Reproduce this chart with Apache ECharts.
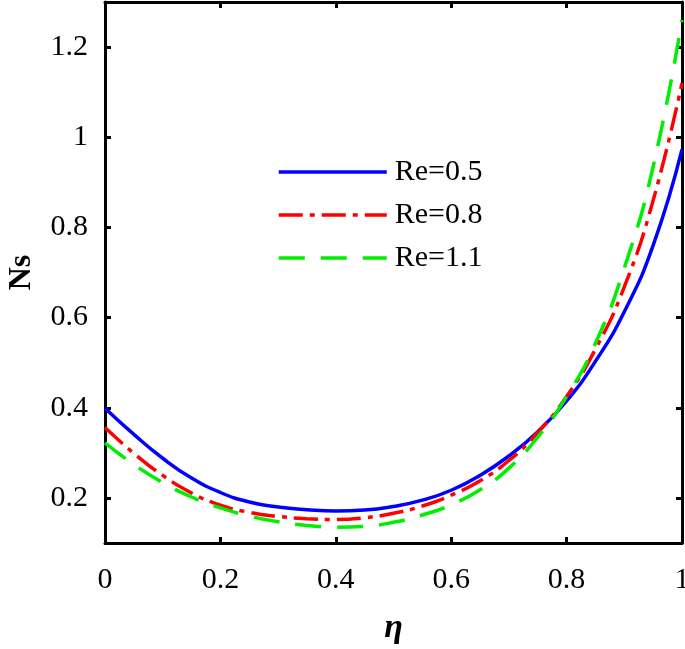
<!DOCTYPE html>
<html>
<head>
<meta charset="utf-8">
<script src="https://cdn.jsdelivr.net/npm/echarts@6/dist/echarts.min.js"></script>
<style>
  html, body { margin: 0; padding: 0; background: #fff; }
  #chartNs { width: 685px; height: 649px; }
</style>
</head>
<body>
<div id="chartNs"></div>
<script>
const etaValues = [0, 0.05, 0.1, 0.15, 0.2, 0.25, 0.3, 0.35, 0.4, 0.45, 0.5,
  0.55, 0.6, 0.65, 0.7, 0.75, 0.8, 0.85, 0.9, 0.95, 1]
// Ns for Re = 0.5
const nsRe05 = [0.399, 0.341, 0.288, 0.244, 0.212, 0.191, 0.180, 0.174, 0.171, 0.173, 0.181,
  0.195, 0.217, 0.250, 0.293, 0.347, 0.415, 0.503, 0.613, 0.760, 0.973]
// Ns for Re = 0.8
const nsRe08 = [0.356, 0.299, 0.250, 0.211, 0.184, 0.168, 0.159, 0.154, 0.152, 0.156, 0.166,
  0.182, 0.206, 0.238, 0.283, 0.345, 0.425, 0.530, 0.668, 0.860, 1.120]
// Ns for Re = 1.1
const nsRe11 = [0.322, 0.274, 0.234, 0.202, 0.178, 0.160, 0.147, 0.139, 0.135, 0.137, 0.146,
  0.162, 0.185, 0.218, 0.266, 0.335, 0.425, 0.543, 0.710, 0.935, 1.260]
const yTicks = [0.2, 0.4, 0.6, 0.8, 1, 1.2]

const serif = '"Liberation Serif", "DejaVu Serif", serif'

function pairs (ys) {
  return etaValues.map((x, i) => [x, ys[i]])
}

const chartNs = echarts.init(document.getElementById('chartNs'))

const xBase = {
  type: 'value',
  min: 0,
  max: 1,
  interval: 0.2,
  axisLine: { show: true, onZero: false, lineStyle: { color: '#000', width: 3 } },
  axisTick: { show: true, inside: true, length: 6, lineStyle: { color: '#000', width: 3 } },
  splitLine: { show: false }
}
const yBase = {
  type: 'value',
  min: 0.1,
  max: 1.3,
  axisLine: { show: true, onZero: false, lineStyle: { color: '#000', width: 3 } },
  axisTick: { show: true, inside: true, length: 6, customValues: yTicks, lineStyle: { color: '#000', width: 3 } },
  splitLine: { show: false }
}

let option = {
  animation: false,
  backgroundColor: '#fff',
  grid: {
    left: 105,
    right: 3,
    top: 2,
    bottom: 106,
    containLabel: false,
    outerBoundsMode: 'none'
  },
  legend: {
    orient: 'vertical',
    left: 272,
    top: 152,
    itemWidth: 108,
    itemHeight: 14,
    itemGap: 13,
    itemStyle: { opacity: 0 },
    lineStyle: { width: 3.5 },
    textStyle: {
      fontFamily: serif,
      fontSize: 30,
      color: '#000',
      padding: [0, 0, 0, 3]
    },
    data: ['Re=0.5', 'Re=0.8', 'Re=1.1']
  },
  xAxis: [
    Object.assign({}, xBase, {
      position: 'bottom',
      name: 'η',
      nameLocation: 'middle',
      nameGap: 68,
      nameTextStyle: { fontFamily: serif, fontSize: 34, fontWeight: 'bold', fontStyle: 'italic', color: '#000' },
      axisLabel: { margin: 22, fontFamily: serif, fontSize: 30, color: '#000' }
    }),
    Object.assign({}, xBase, {
      position: 'top',
      axisLabel: { show: false }
    })
  ],
  yAxis: [
    Object.assign({}, yBase, {
      position: 'left',
      name: 'Ns',
      nameLocation: 'middle',
      nameRotate: 90,
      nameGap: 67,
      nameTextStyle: { fontFamily: serif, fontSize: 32, fontWeight: 'bold', color: '#000' },
      axisLabel: { margin: 17, customValues: yTicks, fontFamily: serif, fontSize: 30, color: '#000' }
    }),
    Object.assign({}, yBase, {
      position: 'right',
      axisLabel: { show: false }
    })
  ],
  series: [
    {
      name: 'Re=0.5',
      type: 'line',
      smooth: true,
      symbol: 'none',
      color: '#0000ff',
      lineStyle: { color: '#0000ff', width: 3.5, type: 'solid' },
      data: pairs(nsRe05)
    },
    {
      name: 'Re=0.8',
      type: 'line',
      smooth: true,
      symbol: 'none',
      color: '#ff0000',
      lineStyle: { color: '#ff0000', width: 3.5, type: [24, 7, 5, 7] },
      data: pairs(nsRe08)
    },
    {
      name: 'Re=1.1',
      type: 'line',
      smooth: true,
      symbol: 'none',
      color: '#00ee00',
      lineStyle: { color: '#00ee00', width: 3.5, type: [26, 16] },
      data: pairs(nsRe11)
    }
  ]
}
chartNs.setOption(option)
</script>
</body>
</html>
